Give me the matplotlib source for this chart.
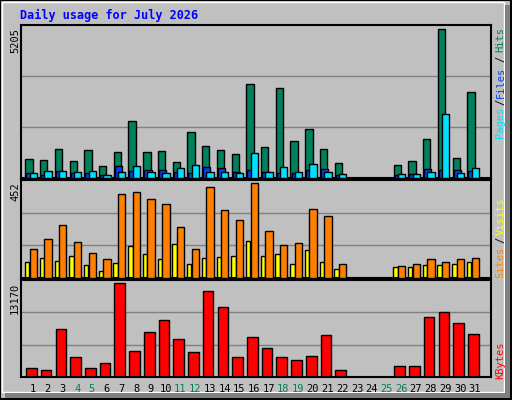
import matplotlib
matplotlib.use("Agg")
import matplotlib.pyplot as plt
from matplotlib.patches import Rectangle
import numpy as np

days = list(range(1, 32))
hits = [650,614,1003,578,968,401,897,1995,897,932,543,1605,1110,968,826,3270,1074,3163,1287,1711,1003,507,0,0,0,437,578,1357,5205,685,3022]
files = [142,94,224,165,142,94,401,224,260,260,189,153,366,330,189,260,189,153,153,260,295,94,0,0,0,94,118,295,260,260,224]
pages = [153,224,224,189,224,94,189,401,189,153,330,437,189,189,153,862,189,366,189,472,189,118,0,0,0,118,118,189,2243,153,330]
visits = [75,95,80,104,60,31,70,149,114,90,158,65,95,100,104,173,104,114,65,129,75,41,0,0,0,51,51,60,60,65,75]
sites = [134,183,251,168,119,90,398,408,374,349,242,134,432,320,276,452,222,153,163,325,295,65,0,0,0,55,65,90,75,90,95]
kbytes = [1245,958,6705,2826,1245,1964,13170,3688,6274,7998,5268,3544,12021,9722,2826,5555,4119,2826,2395,2969,5843,958,0,0,0,1532,1532,8429,9147,7567,5987]
weekend = [4,5,11,12,18,19,25,26]

W, H = 512, 400
fig = plt.figure(figsize=(W/100, H/100), dpi=100)
fig.patch.set_facecolor("#c0c0c0")

bg = fig.add_axes([0, 0, 1, 1])
bg.set_xlim(0, W); bg.set_ylim(H, 0); bg.axis("off")
bg.add_patch(Rectangle((0, 0), W-1, H-1, fill=False, ec="black", lw=1.5))
bg.add_patch(Rectangle((2, 2), W-10, H-10, fill=False, ec="white", lw=1))
bg.add_patch(Rectangle((W-7, 5), 5, H-7, fc="#808080", ec="none"))
bg.add_patch(Rectangle((5, H-7), W-7, 5, fc="#808080", ec="none"))

mono = "DejaVu Sans Mono"
bg.text(20, 15, "Daily usage for July 2026", color="#0000ff", fontsize=8.5,
        fontweight="bold", family=mono, va="center", ha="left")

L, R = 20.7, 490.7
x = np.array(days, dtype=float)
xl = (1 - (33 - L)/14.73, 1 - (33 - L)/14.73 + (R - L)/14.73)

def mkax(top, bot):
    ax = fig.add_axes([L/W, 1 - bot/H, (R-L)/W, (bot-top)/H])
    ax.set_facecolor("#c0c0c0")
    ax.set_xlim(*xl)
    ax.set_xticks([]); ax.set_yticks([])
    for s in ax.spines.values():
        s.set_color("black"); s.set_linewidth(1.5)
    return ax

def grid(ax, mx):
    for f in (1/3, 2/3):
        ax.axhline(mx*f, color="#808080", lw=1, zorder=0)

ax1 = mkax(25, 177.5)
m1 = max(hits)
ax1.set_ylim(0, m1*1.03)
grid(ax1, m1*1.03)
ax1.bar(x-0.27, hits, 0.5, color="#00805c", ec="black", lw=1, zorder=2)
ax1.bar(x-0.2, files, 0.5, color="#0040ff", ec="black", lw=1, zorder=3)
ax1.bar(x+0.02, pages, 0.5, color="#00e0ff", ec="black", lw=1, zorder=4)

ax2 = mkax(180, 277.5)
m2 = max(sites)
ax2.set_ylim(0, m2*1.03)
grid(ax2, m2*1.03)
ax2.bar(x-0.39, visits, 0.3, color="#ffff00", ec="black", lw=1, zorder=2)
ax2.bar(x+0.02, sites, 0.5, color="#ff8000", ec="black", lw=1, zorder=3)

ax3 = mkax(280, 377)
m3 = max(kbytes)
ax3.set_ylim(0, m3*1.03)
grid(ax3, m3*1.03)
ax3.bar(x-0.11, kbytes, 0.72, color="#ff0000", ec="black", lw=1, zorder=2)

# left max labels
for t, ytop in ((str(m1), 28), (str(m2), 182), (str(m3), 283)):
    bg.text(15, ytop, t, rotation=90, ha="center", va="top", fontsize=7.5,
            family=mono, color="black")

# right labels
def rl(txt, yc, col):
    bg.text(500.5, yc, txt, rotation=90, ha="center", va="center", fontsize=7.5,
            family=mono, color=col)
rl("Pages", 122, "#00e0ff"); rl("/", 102, "black"); rl("Files", 82, "#0040ff")
rl("/", 59, "black"); rl("Hits", 40, "#00805c")
rl("Sites", 262, "#ff8000"); rl("/", 240, "black"); rl("Visits", 216, "#ffff00")
rl("KBytes", 360, "#ff0000")

for d in days:
    px = 33 + (d-1)*14.73
    bg.text(px, 389, str(d), ha="center", va="center", fontsize=7.5, family=mono,
            color="#00805c" if d in weekend else "black")

fig.savefig("out.png", dpi=100, facecolor=fig.get_facecolor())
